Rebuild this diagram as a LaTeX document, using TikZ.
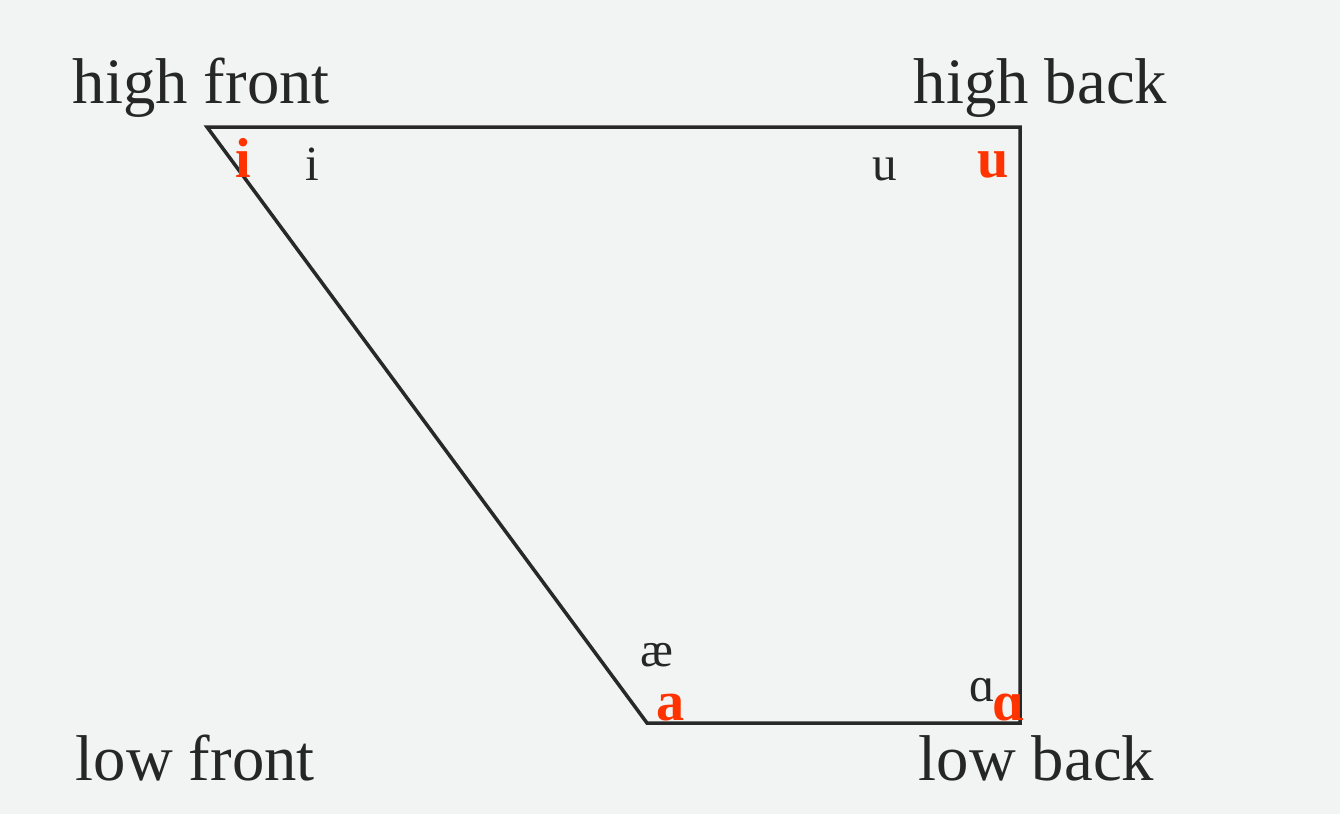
\documentclass[tikz,border=0pt]{standalone}
\usepackage{fontspec}
\setmainfont{Liberation Serif}
\usetikzlibrary{positioning}
\definecolor{paperbg}{RGB}{242,243,243}
\definecolor{chartline}{RGB}{40,40,40}
\definecolor{vowelred}{RGB}{255,51,0}
\tikzset{
  corner/.style={anchor=base west, inner sep=0pt, text=black!85,
                 font=\fontsize{18.4}{20}\selectfont},
  vowel/.style={anchor=base west, inner sep=0pt, text=black!85,
                font=\fontsize{14}{16}\selectfont},
  target/.style={anchor=base west, inner sep=0pt, text=vowelred,
                 font=\fontsize{16}{18}\selectfont\bfseries},
  chart/.style={draw=chartline, line width=1pt, line join=miter}
}

\begin{document}
\begin{tikzpicture}[x=0.01cm, y=-0.01cm]
\fill[paperbg] (0,0) rectangle (1340,814);
\useasboundingbox (0,0) rectangle (1340,814);
% vowel space
\coordinate (hf) at (207,127);
\coordinate (hb) at (1020,127);
\coordinate (lb) at (1020,723);
\coordinate (lf) at (647,723);
\draw[chart] (hf) -- (hb) -- (lb) -- (lf) -- cycle;
% corner names
\node[corner] (hfname) at (72,103)  {high front};
\node[corner] (hbname) at (913,103) {high back};
\node[corner] (lfname) at (75,780)  {low front};
\node[corner] (lbname) at (918,780) {low back};
% vowels
\node[vowel] (vi)  at (305,180) {i};
\node[vowel] (vu)  at (872,180) {u};
\node[vowel] (vae) at (640,666) {æ};
\node[vowel] (vah) at (969,701) {ɑ};
\node[target] (ti)  at (235,177) {i};
\node[target] (tu)  at (977,177) {u};
\node[target] (ta)  at (656,720) {a};
\node[target] (tah) at (992,720) {ɑ};
\end{tikzpicture}
\end{document}
